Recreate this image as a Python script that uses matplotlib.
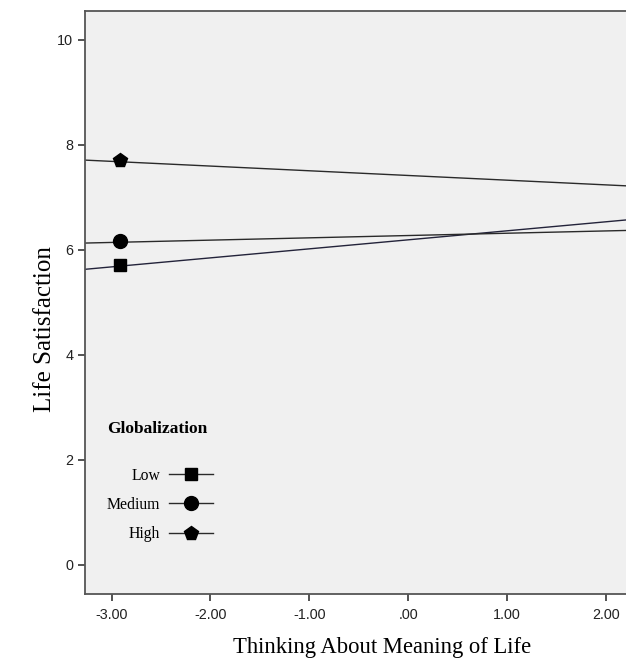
import numpy as np
import matplotlib
matplotlib.use('Agg')
import matplotlib.pyplot as plt
from matplotlib.lines import Line2D

# group names and their markers
groups = ['Low', 'Medium', 'High']
markers = ['s', 'o', 'p']
msizes = [9, 10, 10.5]

# single plotted point per group
point_x = [-2.92, -2.92, -2.92]
point_y = [5.71, 6.17, 7.71]

# fit line values at the left / right edges of the plot
fit_x = [-3.27, 2.205]
fit_low = [5.63, 6.57]
fit_med = [6.13, 6.37]
fit_high = [7.71, 7.22]
fits = [fit_low, fit_med, fit_high]
fit_colors = ['#23233a', '#2a2a2a', '#2a2a2a']

xticks = [-3, -2, -1, 0, 1, 2]
xticklabels = ['-3.00', '-2.00', '-1.00', '.00', '1.00', '2.00']
yticks = [0, 2, 4, 6, 8, 10]

W, H = 626, 664
fig = plt.figure(figsize=(W/100, H/100), dpi=100)
ax = fig.add_axes([85/W, (H-594.3)/H, (W-85)/W, (594.3-11)/H])
ax.set_facecolor('#f0f0f0')

for i in range(3):
    ax.plot(fit_x, fits[i], color=fit_colors[i], lw=1.0, zorder=2)
    ax.plot(point_x[i], point_y[i], marker=markers[i], ms=msizes[i],
            color='black', ls='none', zorder=3)

ax.set_xlim(-3.27, 2.205)
ax.set_ylim(-0.56, 10.55)
ax.set_xticks(xticks)
ax.set_xticklabels(xticklabels)
ax.set_yticks(yticks)

for s in ['left', 'bottom', 'top']:
    ax.spines[s].set_color('#555555')
    ax.spines[s].set_linewidth(1.3)
ax.spines['right'].set_visible(False)

ax.tick_params(axis='both', direction='out', length=5, width=1.3,
               color='#444444', labelsize=10.4, labelcolor='#222222')
ax.tick_params(axis='x', pad=5)
for lab in ax.get_xticklabels() + ax.get_yticklabels():
    lab.set_family('Liberation Sans')

fig.text(382/W, 1 - 647/H, 'Thinking About Meaning of Life',
         family='Liberation Serif', fontsize=16.3, ha='center', va='center')
fig.text(45/W, 1 - 329/H, 'Life Satisfaction', family='Liberation Serif',
         fontsize=18, rotation=90, ha='center', va='center')

handles = [Line2D([], [], color='#2a2a2a', lw=1.0, marker=m, ms=ms,
                  markerfacecolor='black', markeredgecolor='black')
           for m, ms in zip(markers, msizes)]
leg = ax.legend(handles, groups, title='Globalization', loc='upper left',
                bbox_to_anchor=(0.0407, 0.297), frameon=False, markerfirst=False,
                handlelength=2.8, handletextpad=0.57, labelspacing=0.85,
                borderpad=0, borderaxespad=0, alignment='left',
                prop={'family': 'Liberation Serif', 'size': 11.3},
                title_fontproperties={'family': 'Liberation Serif',
                                      'size': 12.5, 'weight': 'bold'})
leg._legend_box.sep = 22

fig.savefig('out.png', dpi=100)
